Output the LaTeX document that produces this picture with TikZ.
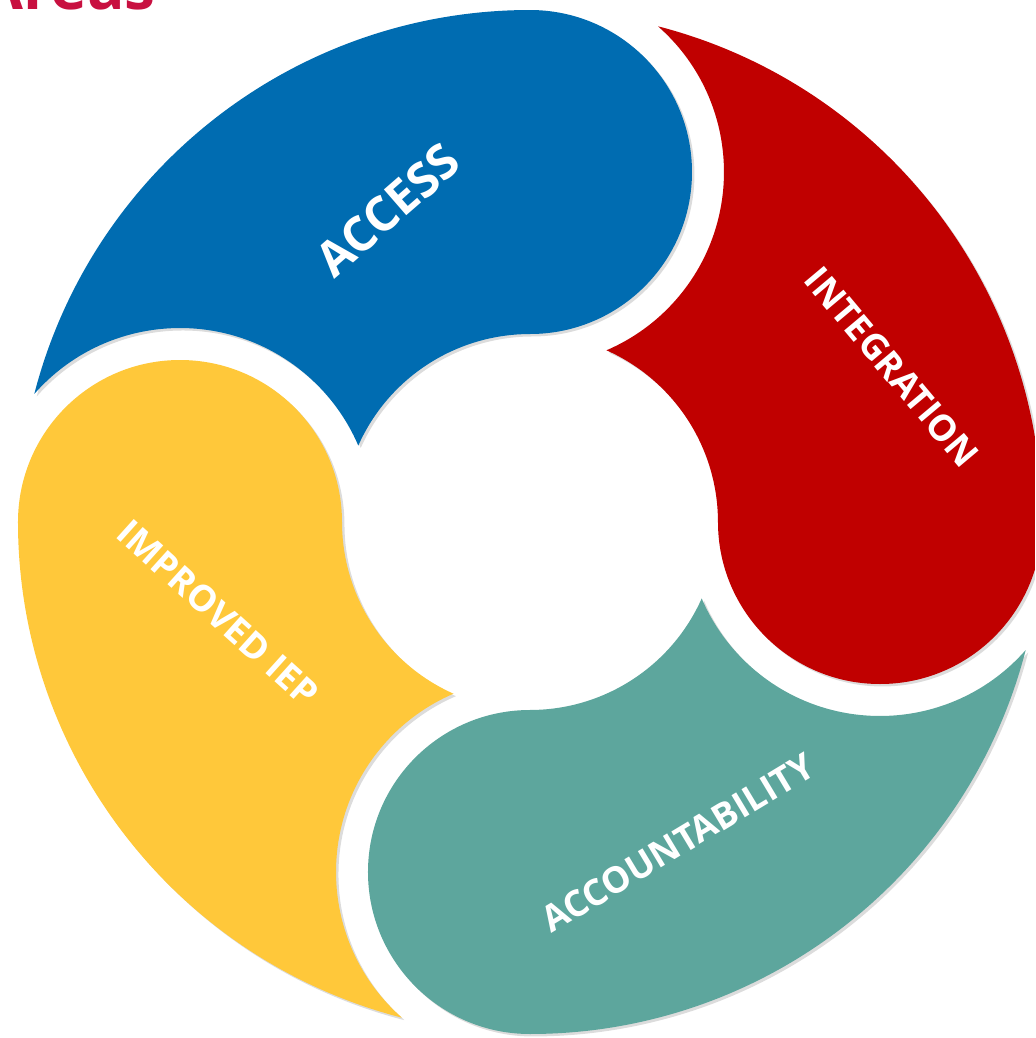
\documentclass[tikz,border=0pt]{standalone}
\usepackage{fontspec}
\setmainfont{Open Sans}
\usetikzlibrary{calc,shadows}
\definecolor{accessblue}{RGB}{0,108,177}
\definecolor{integred}{RGB}{192,0,0}
\definecolor{accteal}{RGB}{93,166,157}
\definecolor{iepyellow}{RGB}{255,200,58}
\definecolor{titlered}{RGB}{200,16,64}
\tikzset{
  petal/.style={fill=#1, drop shadow={shadow xshift=0.7pt, shadow yshift=-0.7pt, opacity=0.28}},
  petallabel/.style={text=white, inner sep=0pt, font=\bfseries\fontsize{10.3}{12}\selectfont},
}

\begin{document}
\begin{tikzpicture}
  \useasboundingbox (-5.30,-5.16) rectangle (5.05,5.22);
  \clip (-5.30,-5.16) rectangle (5.05,5.22);
  \def\Rout{5.12}
  \def\Rin{1.88}
  \def\Rmid{3.5}
  \def\Rhead{1.62}
  \def\Rcut{1.94}
  % tail tips, where the ring meets the cut round the next head
  \pgfmathsetmacro\angOut{acos((\Rcut*\Rcut-\Rout*\Rout-\Rmid*\Rmid)/(2*\Rout*\Rmid))}
  \pgfmathsetmacro\angIn{acos((\Rcut*\Rcut-\Rin*\Rin-\Rmid*\Rmid)/(2*\Rin*\Rmid))}
  \pgfmathsetmacro\cutOut{atan2(\Rout*sin(\angOut),\Rout*cos(\angOut)+\Rmid)}
  \pgfmathsetmacro\cutIn{atan2(\Rin*sin(\angIn),\Rin*cos(\angIn)+\Rmid)}
  \foreach \rot/\col in {0/accessblue,-90/integred,-180/accteal,90/iepyellow}{
    \begin{scope}[rotate=\rot]
      \path[petal=\col] (90:\Rin)
        arc[start angle=-90, end angle=90, radius=\Rhead]
        arc[start angle=90, end angle=\angOut, radius=\Rout]
        arc[start angle=\cutOut, end angle=\cutIn, radius=\Rcut]
        arc[start angle=\angIn, end angle=90, radius=\Rin] -- cycle;
    \end{scope}
  }
  \node[petallabel, font=\bfseries\fontsize{13.6}{16}\selectfont, rotate=41] (access) at (-1.42,3.12) {ACCESS};
  \node[petallabel, rotate=-50] (integration) at (3.62,1.55) {INTEGRATION};
  \node[petallabel, rotate=31] (accountability) at (1.48,-3.21) {ACCOUNTABILITY};
  \node[petallabel, rotate=-42] (iep) at (-3.12,-0.91) {IMPROVED IEP};
  \node[anchor=base west, inner sep=0pt, text=titlered, font=\bfseries\fontsize{17.7}{20}\selectfont] (title) at (-5.50,5.13) {Areas};
\end{tikzpicture}
\end{document}
